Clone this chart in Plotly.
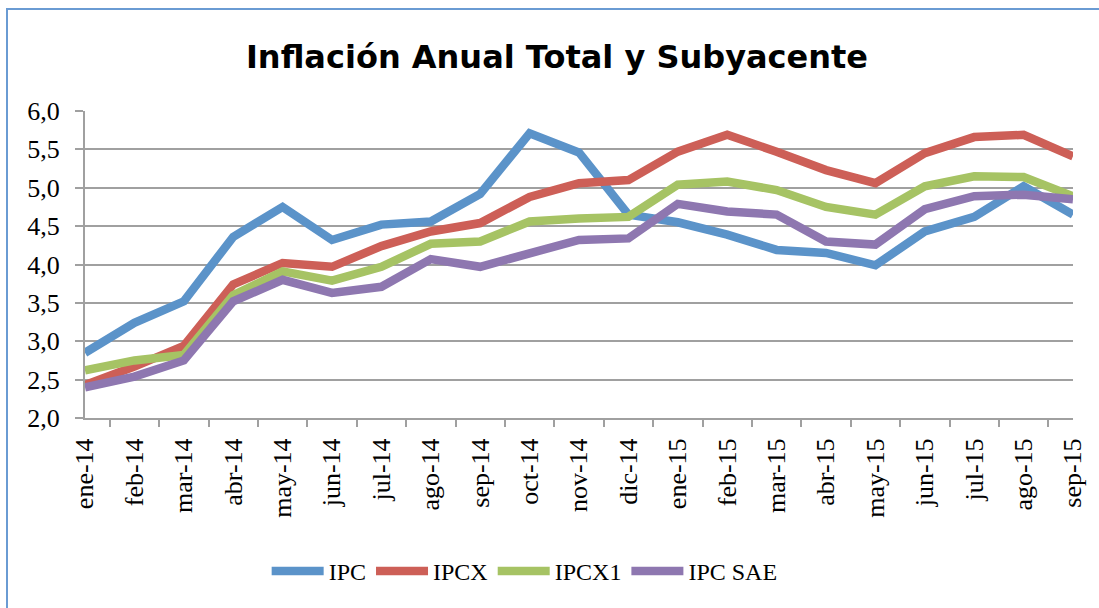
import plotly.graph_objs as go

meses = ["ene-14", "feb-14", "mar-14", "abr-14", "may-14", "jun-14", "jul-14",
         "ago-14", "sep-14", "oct-14", "nov-14", "dic-14", "ene-15", "feb-15",
         "mar-15", "abr-15", "may-15", "jun-15", "jul-15", "ago-15", "sep-15"]

ipc = [2.85, 3.24, 3.52, 4.36, 4.75, 4.32, 4.52, 4.56, 4.92, 5.71, 5.46,
       4.65, 4.55, 4.39, 4.19, 4.15, 3.99, 4.43, 4.62, 5.02, 4.65]
ipcx = [2.43, 2.67, 2.94, 3.74, 4.02, 3.97, 4.24, 4.43, 4.54, 4.88, 5.06,
        5.10, 5.47, 5.69, 5.47, 5.23, 5.06, 5.45, 5.66, 5.69, 5.41]
ipcx1 = [2.62, 2.75, 2.82, 3.60, 3.91, 3.79, 3.97, 4.27, 4.30, 4.56, 4.60,
         4.62, 5.04, 5.08, 4.97, 4.75, 4.65, 5.02, 5.15, 5.14, 4.89]
ipc_sae = [2.40, 2.54, 2.75, 3.52, 3.80, 3.63, 3.71, 4.07, 3.97, 4.14, 4.32,
           4.34, 4.79, 4.69, 4.65, 4.30, 4.26, 4.72, 4.89, 4.91, 4.85]

series = [
    ("IPC", ipc, "#5b93c9"),
    ("IPCX", ipcx, "#cd5f57"),
    ("IPCX1", ipcx1, "#a6c364"),
    ("IPC SAE", ipc_sae, "#8e77b0"),
]

serif = "Liberation Serif"

fig = go.Figure()
for nombre, valores, color in series:
    fig.add_trace(go.Scatter(x=meses, y=valores, name=nombre, mode="lines",
                             line=dict(color=color, width=8.5)))

# marco azul del gráfico (Excel)
L, R, T, B = 85, 26, 111, 190
pw, ph = 1099 - L - R, 608 - T - B
fig.add_shape(type="rect", xref="paper", yref="paper",
              x0=(7 - L) / pw, x1=(1110 - L) / pw,
              y0=(418 - 620) / ph, y1=(418 - 9) / ph,
              line=dict(color="#6a9bd3", width=2), layer="below")

fig.update_layout(
    width=1099, height=608,
    margin=dict(l=L, r=R, t=T, b=B),
    paper_bgcolor="white", plot_bgcolor="white",
    separators=",.",
    title=dict(text="<b>Inflación Anual Total y Subyacente</b>",
               x=557 / 1099, xanchor="center", y=1 - 57 / 608, yanchor="middle",
               font=dict(family="DejaVu Sans", size=32, color="black")),
    legend=dict(orientation="h", x=0.445, xanchor="center", y=-0.5, yanchor="middle",
                font=dict(family=serif, size=24, color="black"),
                itemwidth=52, traceorder="normal"),
    showlegend=True,
)
fig.update_xaxes(type="category", tickson="boundaries", ticks="outside", ticklen=7,
                 tickcolor="#a0a0a0", tickwidth=2, tickangle=-90, ticklabelstandoff=8,
                 showline=True, linecolor="#a0a0a0", linewidth=2, showgrid=False,
                 tickfont=dict(family=serif, size=26, color="black"))
fig.update_yaxes(range=[2, 6], dtick=0.5, tickformat=".1f", ticks="outside", ticklen=8,
                 tickcolor="#a0a0a0", tickwidth=2, ticklabelstandoff=10,
                 showline=True, linecolor="#a0a0a0", linewidth=2,
                 showgrid=True, gridcolor="#a0a0a0", gridwidth=2, zeroline=False,
                 tickfont=dict(family=serif, size=26, color="black"))

# sin margen del body para que el gráfico quede en (0, 0)
fig.write_html("out.html", config={"displayModeBar": False},
               post_script="document.body.style.margin='0';")
